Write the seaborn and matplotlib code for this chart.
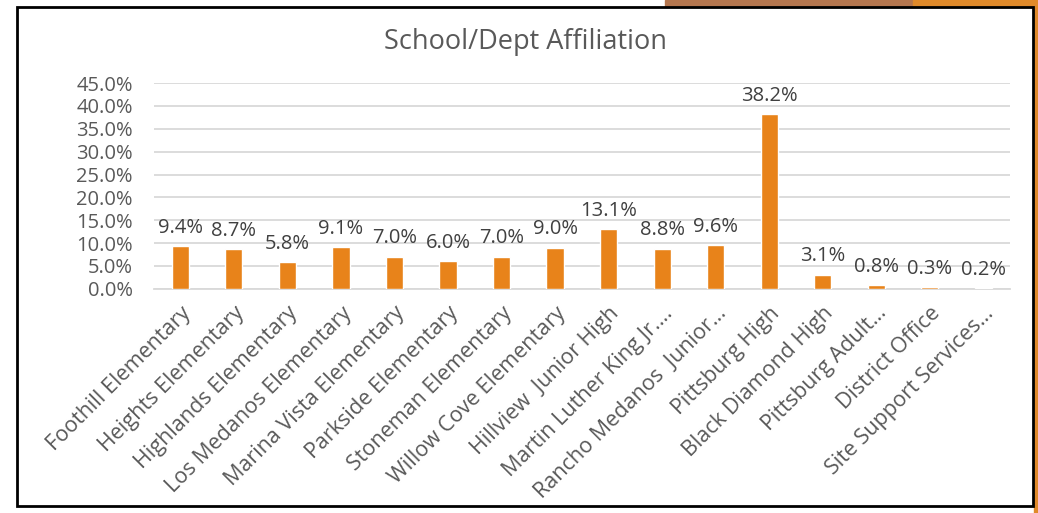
import matplotlib
matplotlib.use("Agg")
import matplotlib.pyplot as plt
import seaborn as sns
import pandas as pd
from matplotlib.patches import Rectangle
from matplotlib.ticker import PercentFormatter

schools = [
    "Foothill Elementary", "Heights Elementary", "Highlands Elementary",
    "Los Medanos Elementary", "Marina Vista Elementary", "Parkside Elementary",
    "Stoneman Elementary", "Willow Cove Elementary", "Hillview  Junior High",
    "Martin Luther King Jr.…", "Rancho Medanos  Junior…", "Pittsburg High",
    "Black Diamond High", "Pittsburg Adult…", "District Office",
    "Site Support Services…",
]
share = [9.4, 8.7, 5.8, 9.1, 7.0, 6.0, 7.0, 9.0, 13.1, 8.8, 9.6, 38.2, 3.1, 0.8, 0.3, 0.2]
y_ticks = [0, 5, 10, 15, 20, 25, 30, 35, 40, 45]

df = pd.DataFrame({"school": schools, "share": share})

sns.set_style("white")
plt.rcParams["font.family"] = ["Open Sans", "DejaVu Sans"]
grey = "#595959"
bar_color = "#E8831A"

fig = plt.figure(figsize=(10.38, 5.13), dpi=100)
ax = fig.add_axes([0.148, 0.437, 0.825, 0.401])

sns.barplot(data=df, x="school", y="share", color=bar_color, width=0.32,
            saturation=1, ax=ax, zorder=3)

ax.set_xlim(-0.5, len(schools) - 0.5)
ax.set_ylim(0, 45)
ax.set_yticks(y_ticks)
ax.yaxis.set_major_formatter(PercentFormatter(decimals=1))
ax.grid(axis="y", color="#D9D9D9", linewidth=1.3, zorder=0)
ax.set_axisbelow(True)
for s in ["top", "right", "left"]:
    ax.spines[s].set_visible(False)
ax.spines["bottom"].set_color("#D9D9D9")
ax.spines["bottom"].set_linewidth(1.3)
ax.set_xlabel("")
ax.set_ylabel("")
ax.tick_params(axis="y", length=0, pad=15, labelsize=14.5, labelcolor=grey)
ax.tick_params(axis="x", length=0, pad=10, labelsize=15.5, labelcolor=grey)
plt.setp(ax.get_xticklabels(), rotation=45, ha="right", rotation_mode="anchor")

for i, v in enumerate(share):
    ax.annotate(f"{v:.1f}%", (i, v), xytext=(0, 6), textcoords="offset points",
                ha="center", va="bottom", fontsize=14.5, color="#404040")

fig.text(526 / 1038, 1 - 42 / 513, "School/Dept Affiliation", fontsize=19.5,
         color=grey, ha="center", va="center")

# slide frame
W, H = 1038, 513
fig.patches.append(Rectangle((665 / W, 1 - 7 / H), 248 / W, 7 / H,
                             transform=fig.transFigure, color="#B5764E", zorder=0))
fig.patches.append(Rectangle((913 / W, 1 - 7 / H), 125 / W, 7 / H,
                             transform=fig.transFigure, color="#E08A2A", zorder=0))
fig.patches.append(Rectangle((1034 / W, 0), 4 / W, 1,
                             transform=fig.transFigure, color="#E08A2A", zorder=0))
fig.patches.append(Rectangle((17 / W, 1 - 506 / H), 1016 / W, 499 / H,
                             transform=fig.transFigure, fill=False,
                             edgecolor="black", linewidth=2, zorder=1))

fig.savefig("out.png", dpi=100)
